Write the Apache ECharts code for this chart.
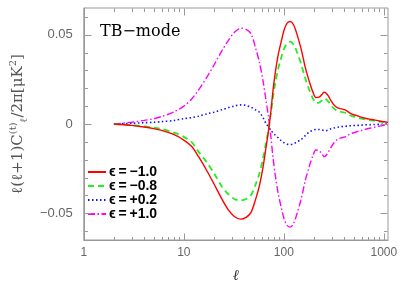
<!DOCTYPE html>
<html>
<head>
<meta charset="utf-8">
<script src="https://cdn.jsdelivr.net/npm/echarts@6/dist/echarts.min.js"></script>
<style>html,body{margin:0;padding:0;background:#fff;}#c{width:407px;height:289px;}</style>
</head>
<body>
<div id="c"></div>
<script>
var ell = [2,3,4,5,6,8,10,12,14,17,20,24,28,32,37,42,47,52,57,62,66,70,74,78,82,88,94,101,108,116,125,135,149,165,180,195,209,225,240,246,252,258,265,280,295,317,345,375,410,440,480,530,580,650,720,800,900,1000,1100];
var epsM10 = [0,-0.0008,-0.0017,-0.0026,-0.0036,-0.0060,-0.0090,-0.0126,-0.0182,-0.0262,-0.0335,-0.0420,-0.0483,-0.0518,-0.0533,-0.0523,-0.0495,-0.0425,-0.0345,-0.0240,-0.0140,-0.0045,0.0065,0.0190,0.0285,0.0390,0.0460,0.0530,0.0565,0.0574,0.0556,0.0505,0.0420,0.0310,0.0237,0.0180,0.0148,0.0150,0.0165,0.0173,0.0178,0.0177,0.0172,0.0155,0.0132,0.0107,0.0090,0.0085,0.0079,0.0068,0.0055,0.0048,0.0040,0.0032,0.0027,0.0023,0.0017,0.0013,0.0009];
var epsM08 = [0,-0.0006,-0.0013,-0.0020,-0.0028,-0.0048,-0.0072,-0.0102,-0.0155,-0.0215,-0.0275,-0.0350,-0.0395,-0.0420,-0.0428,-0.0420,-0.0398,-0.0342,-0.0278,-0.0192,-0.0112,-0.0035,0.0055,0.0152,0.0228,0.0312,0.0370,0.0425,0.0452,0.0462,0.0445,0.0405,0.0336,0.0250,0.0190,0.0144,0.0118,0.0120,0.0132,0.0139,0.0143,0.0142,0.0138,0.0124,0.0106,0.0086,0.0072,0.0068,0.0063,0.0055,0.0044,0.0038,0.0032,0.0026,0.0022,0.0018,0.0014,0.0010,0.0007];
var epsP02 = [0,0.0004,0.0007,0.0010,0.0013,0.0020,0.0030,0.0036,0.0043,0.0057,0.0066,0.0080,0.0092,0.0101,0.0107,0.0104,0.0094,0.0080,0.0066,0.0035,0.0005,-0.0015,-0.0035,-0.0050,-0.0062,-0.0078,-0.0093,-0.0106,-0.0113,-0.0115,-0.0111,-0.0100,-0.0087,-0.0063,-0.0045,-0.0035,-0.0031,-0.0031,-0.0033,-0.0035,-0.0036,-0.0037,-0.0037,-0.0033,-0.0027,-0.0022,-0.0018,-0.0015,-0.0013,-0.0011,-0.0009,-0.0008,-0.0007,-0.0005,-0.0004,-0.0003,-0.0002,-0.0001,0];
var epsP10 = [0,0.0010,0.0020,0.0030,0.0042,0.0068,0.0100,0.0140,0.0190,0.0262,0.0330,0.0410,0.0470,0.0513,0.0537,0.0530,0.0505,0.0430,0.0345,0.0240,0.0140,0.0045,-0.0065,-0.0190,-0.0285,-0.0392,-0.0465,-0.0535,-0.0568,-0.0578,-0.0558,-0.0505,-0.0420,-0.0310,-0.0236,-0.0178,-0.0146,-0.0150,-0.0166,-0.0176,-0.0183,-0.0181,-0.0175,-0.0155,-0.0133,-0.0105,-0.0085,-0.0078,-0.0072,-0.0062,-0.0052,-0.0045,-0.0038,-0.0030,-0.0024,-0.0018,-0.0012,-0.0008,-0.0005];
var seriesNames = ['ϵ\u2009=\u2009−1.0','ϵ\u2009=\u2009−0.8','ϵ\u2009=\u2009+0.2','ϵ\u2009=\u2009+1.0'];
var xMajorTicks = [1,10,100,1000];
var xMinorTicks = [2,3,4,5,6,7,8,9,20,30,40,50,60,70,80,90,200,300,400,500,600,700,800,900];
var yMajorTicks = [-0.05,0,0.05];
var yMinorTicks = [-0.06,-0.04,-0.03,-0.02,-0.01,0.01,0.02,0.03,0.04,0.06];

function pairs(ys){ return ell.map(function(l,i){ return [l, ys[i]]; }); }
var axisCol = '#999';
var chart = echarts.init(document.getElementById('c'), null, {renderer:'canvas'});

var styles = [
  {color:'#ff0000', type:'solid', width:1.4},
  {color:'#22ee22', type:[6,4], width:1.8},
  {color:'#1010ff', type:[1.5,2.5], width:1.6},
  {color:'#ff00ff', type:[7,2.5,1.5,2.5], width:1.4}
];
var datas = [epsM10, epsM08, epsP02, epsP10];
var series = datas.map(function(d,i){
  return {name:seriesNames[i], type:'line', data:pairs(d), smooth:0.3,
    symbol:'none', showSymbol:false, lineStyle:styles[i], itemStyle:{color:styles[i].color}, z:10-i, animation:false};
});
var titleEl = {type:'text', left:100, top:24, style:{text:'TB−mode', font:'16px "DejaVu Serif"', fill:'#000'}};

chart.setOption({
  animation:false,
  grid:{left:80, right:19, top:8, bottom:46, containLabel:false, show:true, borderColor:axisCol, borderWidth:1, backgroundColor:'transparent'},
  xAxis:{type:'log', logBase:10, min:1, max:1100,
    axisLine:{show:true, onZero:false, lineStyle:{color:axisCol}},
    axisTick:{show:false},
    axisLabel:{customValues:xMajorTicks, color:'#666', fontSize:12, fontFamily:'Liberation Sans', margin:7,
      formatter:function(v){ return String(Math.round(v)); }},
    splitLine:{show:false}, minorTick:{show:false},
    name:'ℓ', nameLocation:'middle', nameGap:29,
    nameTextStyle:{fontFamily:'DejaVu Serif', fontStyle:'italic', fontSize:15, color:'#333'}},
  yAxis:{type:'value', min:-0.065, max:0.065,
    axisLine:{show:true, onZero:false, lineStyle:{color:axisCol}},
    axisTick:{show:false},
    axisLabel:{customValues:yMajorTicks, color:'#666', fontSize:13, fontFamily:'Liberation Sans', margin:11,
      formatter:function(v){ return v===0 ? '0' : (v<0 ? '−'+Math.abs(v).toFixed(2) : v.toFixed(2)); }},
    splitLine:{show:false},
    name:'{a|ℓ(ℓ+1)C}{sup|(t)}{sub|ℓ}{a|/2π[μK}{sup|2}{a|]}',
    nameLocation:'middle', nameGap:50, nameRotate:90,
    nameTextStyle:{color:'#555', rich:{
      a:{fontFamily:'DejaVu Serif', fontSize:15, color:'#555', lineHeight:21},
      sup:{fontFamily:'DejaVu Serif', fontSize:10, color:'#555', verticalAlign:'top', lineHeight:21},
      sub:{fontFamily:'DejaVu Serif', fontSize:10, color:'#555', verticalAlign:'bottom', lineHeight:21}}}},
  legend:{orient:'vertical', left:82, top:160, itemWidth:18, itemHeight:8, itemGap:0,
    itemStyle:{color:'transparent', borderWidth:0, opacity:0},
    textStyle:{fontFamily:'Liberation Sans', fontWeight:'bold', fontSize:14, color:'#000', padding:[0,0,0,-2]},
    data:seriesNames.map(function(n){return {name:n};})},
  graphic:{elements:[titleEl]},
  series: series
});

function addTicks(){
  var els = [titleEl];
  var g0 = chart.convertToPixel({gridIndex:0}, [1, -0.065]);
  var g1 = chart.convertToPixel({gridIndex:0}, [1100, 0.065]);
  var left = Math.round(g0[0]) + 0.5, bottom = Math.round(g0[1]) + 0.5;
  var right = Math.round(g1[0]) - 0.5, top = Math.round(g1[1]) + 0.5;
  function ln(x1,y1,x2,y2){
    els.push({type:'line', silent:true, z:50, shape:{x1:x1,y1:y1,x2:x2,y2:y2}, style:{stroke:axisCol, lineWidth:1}});
  }
  function xt(vals, len){
    vals.forEach(function(v){
      var x = Math.round(chart.convertToPixel({gridIndex:0}, [v, 0])[0]) + 0.5;
      ln(x, bottom, x, bottom - len); ln(x, top, x, top + len);
    });
  }
  function yt(vals, len){
    vals.forEach(function(v){
      var y = Math.round(chart.convertToPixel({gridIndex:0}, [1, v])[1]) + 0.5;
      ln(left, y, left + len, y); ln(right, y, right - len, y);
    });
  }
  xt(xMajorTicks, 7); xt(xMinorTicks, 3.5); yt(yMajorTicks, 7); yt(yMinorTicks, 3.5);
  chart.setOption({graphic:{elements:els}}, {replaceMerge:['graphic']});
}
addTicks();
</script>
</body>
</html>
